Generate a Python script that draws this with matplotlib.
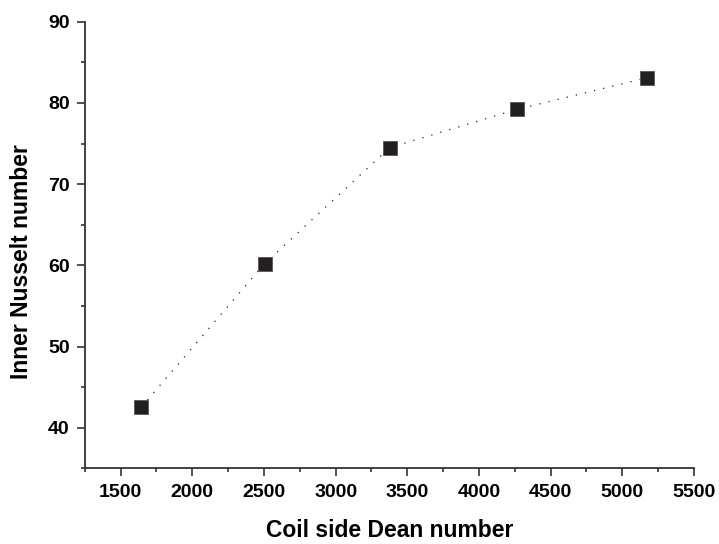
import matplotlib
matplotlib.use("Agg")
import matplotlib.pyplot as plt
from matplotlib.ticker import MultipleLocator

dean = [1644, 2504, 3378, 4264, 5173]
nusselt = [42.55, 60.2, 74.5, 79.2, 83.1]

plt.rcParams['font.family'] = ['Liberation Sans', 'DejaVu Sans']
plt.rcParams['font.weight'] = 'bold'

fig = plt.figure(figsize=(7.19, 5.44), dpi=100)
ax = fig.add_axes([0.118, 0.139, 0.847, 0.821])

col = '#231f20'
ax.plot(dean, nusselt, color=col, lw=0.9, dashes=[1, 6.5], zorder=2)
ax.plot(dean, nusselt, linestyle='none', marker='s', markersize=9.5,
        markerfacecolor=col, markeredgecolor='#555555', markeredgewidth=0.6, zorder=3)

ax.set_xlim(1250, 5500)
ax.set_ylim(35, 90)
ax.xaxis.set_major_locator(MultipleLocator(500))
ax.xaxis.set_minor_locator(MultipleLocator(250))
ax.yaxis.set_major_locator(MultipleLocator(10))
ax.yaxis.set_minor_locator(MultipleLocator(5))

for s in ['top', 'right']:
    ax.spines[s].set_visible(False)
for s in ['left', 'bottom']:
    ax.spines[s].set_color('#333333')
    ax.spines[s].set_linewidth(1.3)

ax.tick_params(which='major', direction='out', length=6, width=1.2, color='#333333',
               labelsize=14, pad=5)
ax.tick_params(which='minor', direction='out', length=3, width=1.2, color='#333333')
for lbl in ax.get_xticklabels() + ax.get_yticklabels():
    lbl.set_fontweight('bold')

ax.set_xlabel('Coil side Dean number', fontsize=16.5, fontweight='bold')
ax.set_ylabel('Inner Nusselt number', fontsize=16.5, fontweight='bold')
ax.xaxis.label.set_va('center')
ax.yaxis.label.set_va('center')
ax.xaxis.set_label_coords(0.5, -0.138)
ax.yaxis.set_label_coords(-0.1035, 0.463)

fig.savefig('out.png', dpi=100)
